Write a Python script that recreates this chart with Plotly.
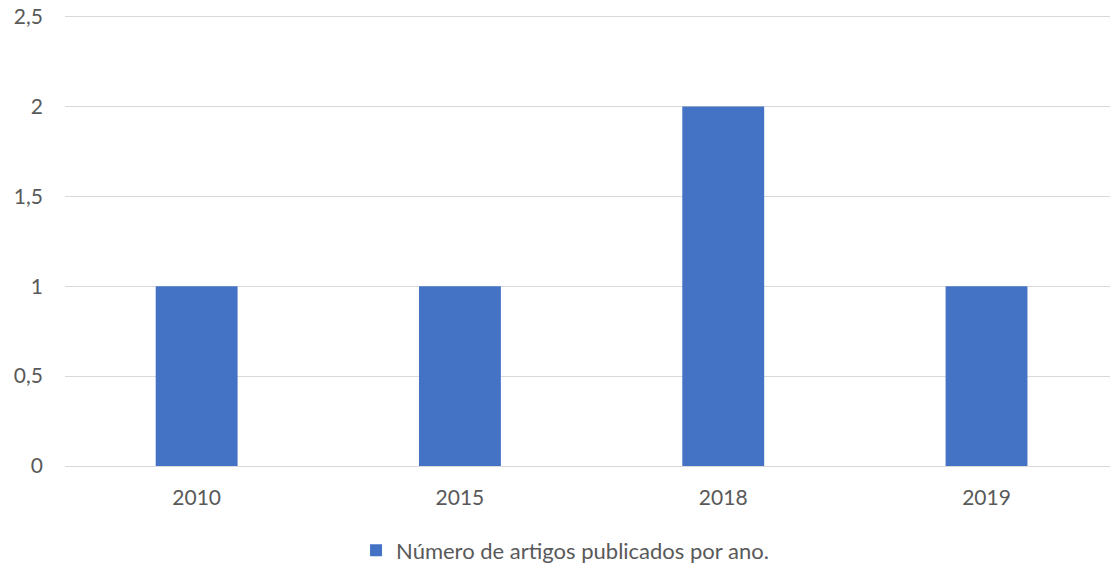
import plotly.graph_objects as go

years = ["2010", "2015", "2018", "2019"]
artigos = [1, 1, 2, 1]
series_name = "Número de artigos publicados por ano."
y_ticks = [0, 0.5, 1, 1.5, 2, 2.5]

fig = go.Figure()
fig.add_trace(go.Bar(
    x=years, y=artigos, name=series_name,
    marker=dict(color="#4472C4", line=dict(width=0)),
    showlegend=True,
))

font_family = "Lato, 'Open Sans', sans-serif"
fig.update_layout(
    width=1110, height=564,
    margin=dict(l=65, r=0, t=7, b=97.5, autoexpand=False),
    paper_bgcolor="white", plot_bgcolor="white",
    separators=", ",
    bargap=0.689,
    font=dict(family=font_family, size=22, color="#595959"),
    showlegend=True,
    legend=dict(
        orientation="h", x=0.2785, xanchor="left", y=-0.184, yanchor="middle",
        font=dict(family=font_family, size=22, color="#595959"),
    ),
    xaxis=dict(
        type="category", range=[-0.5, 3.469],
        showgrid=False, zeroline=False, showline=False,
        ticks="", ticklabelstandoff=17,
        tickfont=dict(family=font_family, size=21, color="#595959"),
    ),
    yaxis=dict(
        range=[0, 2.5528], tickvals=y_ticks,
        showgrid=True, gridcolor="#d9d9d9", gridwidth=1.3,
        zeroline=True, zerolinecolor="#d9d9d9", zerolinewidth=1.3,
        showline=False, ticks="", ticklabelstandoff=21,
        ticklabeloverflow="allow",
        tickfont=dict(family=font_family, size=21, color="#595959"),
    ),
)

fig.write_html(
    "out.html",
    config={"displayModeBar": False},
    post_script="document.body.style.margin='0';",
)
